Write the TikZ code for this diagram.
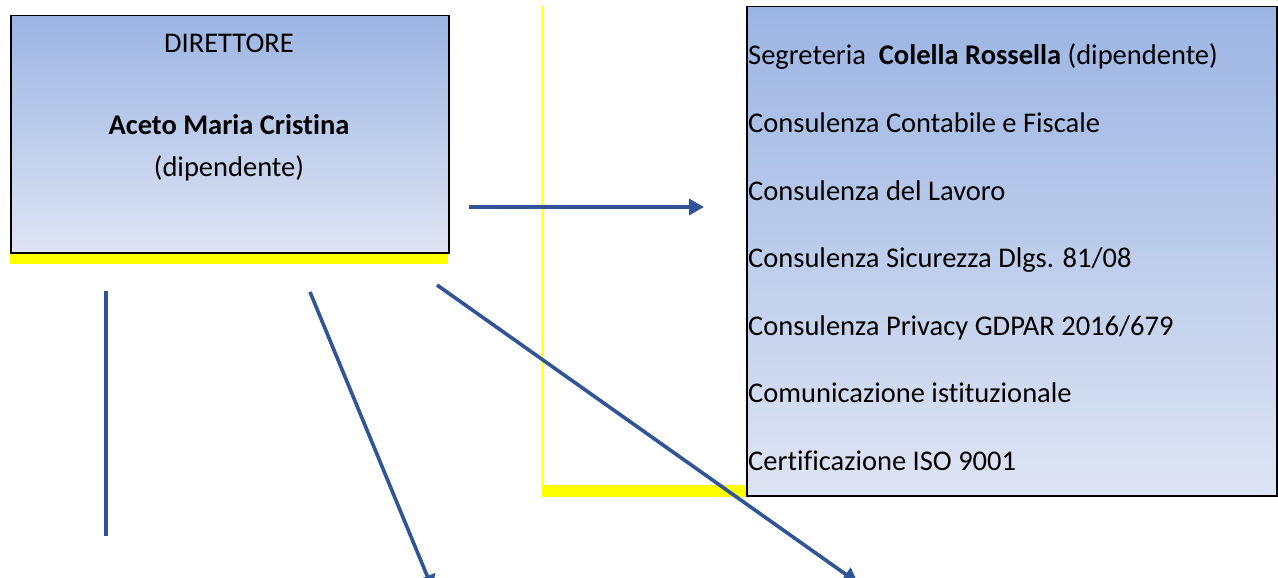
\documentclass[tikz,border=0pt]{standalone}
\usepackage{fontspec}
\setmainfont{Carlito}[Ligatures=NoCommon]
\usetikzlibrary{arrows.meta}
\definecolor{gtop}{RGB}{155,181,227}
\definecolor{gbot}{RGB}{222,228,243}
\definecolor{arr}{RGB}{47,85,151}
\definecolor{ylw}{RGB}{255,255,0}
\tikzset{
  orgbox/.style={draw=black, line width=1.5pt, top color=gtop, bottom color=gbot, inner sep=0pt},
  conn/.style={draw=arr, line width=3.6pt},
  connarrow/.style={conn, -{Triangle[length=15pt,width=16pt]}},
  txt/.style={font=\fontsize{28.5}{34}\selectfont, inner sep=0pt},
}
\begin{document}
\begin{tikzpicture}[x=1pt,y=-1pt]
\useasboundingbox (0,0) rectangle (1278,578);
\clip (0,0) rectangle (1278,578);
\fill[white] (0,0) rectangle (1278,578);
% yellow frame behind right box
\draw[ylw, line width=1pt] (542,6) -- (542,491);
\fill[ylw] (542,485) rectangle (1080,497);
% director yellow band
\fill[ylw] (10,252) rectangle (448,264);
\draw[ylw!80!black, line width=1pt] (449,15) -- (449,252);
% director box
\node[orgbox, minimum width=438pt, minimum height=237pt, anchor=north west] (dir) at (10,15) {};
\node[txt, anchor=base] (dirt) at (229,53) {DIRETTORE};
\node[txt, anchor=base] (dirn) at (229,135) {\textbf{Aceto Maria Cristina}};
\node[txt, anchor=base] (dird) at (229,176) {(dipendente)};
% right box
\node[orgbox, minimum width=530pt, minimum height=489pt, anchor=north west] (staff) at (746,6) {};
\node[txt, anchor=base west] (s1) at (748,65) {Segreteria\ \ \textbf{Colella Rossella} (dipendente)};
\node[txt, anchor=base west] (s2) at (748,132.5) {Consulenza Contabile e Fiscale};
\node[txt, anchor=base west] (s3) at (748,200) {Consulenza del Lavoro};
\node[txt, anchor=base west] (s4) at (748,267.5) {Consulenza Sicurezza Dlgs. 81/08};
\node[txt, anchor=base west] (s5) at (748,335) {Consulenza Privacy GDPAR 2016/679};
\node[txt, anchor=base west] (s6) at (748,402.5) {Comunicazione istituzionale};
\node[txt, anchor=base west] (s7) at (748,470) {Certificazione ISO 9001};
% connectors
\coordinate (h0) at (469,207);
\coordinate (h1) at (704,207);
\coordinate (v0) at (106,291);
\coordinate (v1) at (106,536);
\coordinate (a0) at (310,292);
\coordinate (a1) at (433,590);
\coordinate (b0) at (437,285);
\coordinate (b1) at (858,583);
\draw[connarrow] (h0) -- (h1);
\draw[conn] (v0) -- (v1);
\draw[connarrow] (a0) -- (a1);
\draw[connarrow] (b0) -- (b1);
\end{tikzpicture}
\end{document}
